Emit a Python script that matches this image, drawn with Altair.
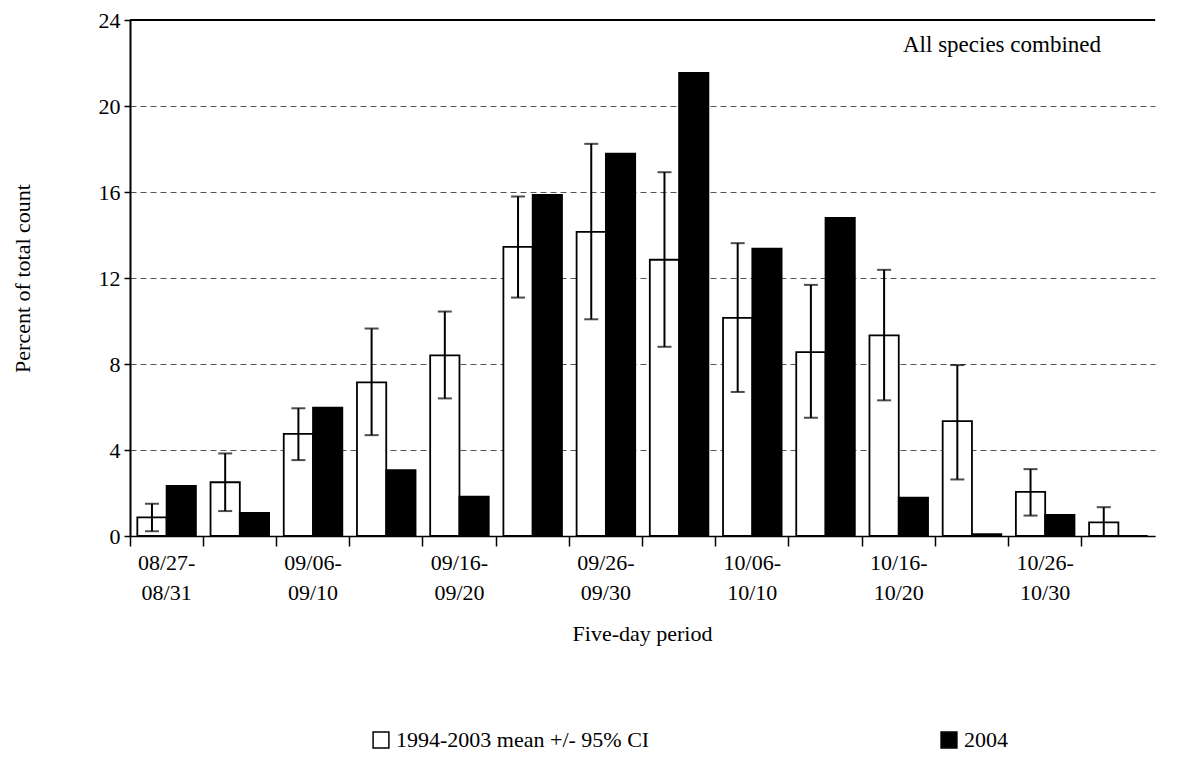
import altair as alt
import pandas as pd

# Five-day periods, late August through early November
periods = [
    "08/27-08/31", "09/01-09/05", "09/06-09/10", "09/11-09/15",
    "09/16-09/20", "09/21-09/25", "09/26-09/30", "10/01-10/05",
    "10/06-10/10", "10/11-10/15", "10/16-10/20", "10/21-10/25",
    "10/26-10/30", "10/31-11/04",
]

# 1994-2003 mean percent of total count, with 95% CI bounds
mean_pct = [0.87, 2.5, 4.75, 7.15, 8.4, 13.45, 14.15, 12.85, 10.15, 8.55, 9.33, 5.34, 2.05, 0.63]
ci_low = [0.22, 1.16, 3.53, 4.69, 6.4, 11.09, 10.08, 8.8, 6.7, 5.5, 6.31, 2.63, 0.95, 0.0]
ci_high = [1.5, 3.84, 5.94, 9.65, 10.44, 15.79, 18.24, 16.92, 13.62, 11.68, 12.38, 7.95, 3.11, 1.34]

# 2004 percent of total count
pct_2004 = [2.33, 1.08, 5.97, 3.06, 1.83, 15.86, 17.78, 21.54, 13.37, 14.79, 1.78, 0.09, 0.98, 0.0]

MEAN = "1994-2003 mean +/- 95% CI"
YEAR = "2004"
series_order = [MEAN, YEAR]

FONT = "Liberation Serif"

bars_df = pd.DataFrame(
    [{"period": p, "series": MEAN, "value": m} for p, m in zip(periods, mean_pct)]
    + [{"period": p, "series": YEAR, "value": v} for p, v in zip(periods, pct_2004)]
)
ci_df = pd.DataFrame({"period": periods, "series": MEAN, "lo": ci_low, "hi": ci_high})

# every other period gets a two-line label
shown = "[" + ",".join("'%s'" % p for p in periods[::2]) + "]"
label_expr = (
    f"indexof({shown}, datum.value) >= 0 ? "
    "[substring(datum.value, 0, 6), substring(datum.value, 6)] : ''"
)

x_enc = alt.X(
    "period:N",
    sort=periods,
    scale=alt.Scale(paddingInner=0, paddingOuter=0),
    axis=alt.Axis(
        title="Five-day period",
        labelExpr=label_expr,
        labelAngle=0,
        labelFont=FONT,
        labelFontSize=22,
        labelColor="black",
        labelLineHeight=30,
        labelPadding=6,
        bandPosition=0,
        tickColor="black",
        tickSize=10,
        tickWidth=1.5,
        domainColor="black",
        domainWidth=1.5,
        titleFont=FONT,
        titleFontSize=22,
        titleFontWeight="normal",
        titleColor="black",
        titleX=512,
        titleY=97,
        titleBaseline="middle",
        grid=False,
    ),
)
off_enc = alt.XOffset(
    "series:N",
    scale=alt.Scale(domain=series_order, paddingOuter=0.25, paddingInner=0),
)

y_scale = alt.Scale(domain=[0, 24])
y_axis = alt.Axis(
    title="Percent of total count",
    values=[0, 4, 8, 12, 16, 20, 24],
    labelFont=FONT,
    labelFontSize=22,
    labelColor="black",
    labelPadding=4,
    tickColor="black",
    tickSize=6,
    tickWidth=1.5,
    domainColor="black",
    domainWidth=2,
    grid=True,
    gridColor="#555555",
    gridDash=[6, 4],
    gridWidth=1,
    titleFont=FONT,
    titleFontSize=22,
    titleFontWeight="normal",
    titleColor="black",
    titleX=-108,
    titleY=258,
    titleBaseline="middle",
)

bars = alt.Chart(bars_df).mark_bar(stroke="black", strokeWidth=1.8).encode(
    x=x_enc,
    xOffset=off_enc,
    y=alt.Y("value:Q", scale=y_scale, axis=y_axis),
    fill=alt.Fill(
        "series:N",
        scale=alt.Scale(domain=series_order, range=["white", "black"]),
        legend=alt.Legend(
            title=None,
            orient="none",
            legendX=240,
            legendY=709,
            direction="horizontal",
            columns=2,
            columnPadding=288,
            symbolType="square",
            symbolSize=250,
            symbolStrokeColor="black",
            symbolStrokeWidth=1.5,
            labelFont=FONT,
            labelFontSize=22,
            labelColor="black",
            labelOffset=4,
            labelLimit=400,
        ),
    ),
)

whisker = alt.Chart(ci_df).mark_rule(color="black", strokeWidth=2).encode(
    x=alt.X("period:N", sort=periods),
    xOffset=off_enc,
    y=alt.Y("lo:Q", scale=y_scale),
    y2="hi:Q",
)
cap_hi = alt.Chart(ci_df).mark_tick(color="black", thickness=2, size=14, orient="horizontal").encode(
    x=alt.X("period:N", sort=periods),
    xOffset=off_enc,
    y=alt.Y("hi:Q", scale=y_scale),
)
cap_lo = alt.Chart(ci_df).mark_tick(color="black", thickness=2, size=14, orient="horizontal").encode(
    x=alt.X("period:N", sort=periods),
    xOffset=off_enc,
    y=alt.Y("lo:Q", scale=y_scale),
)

top_line = alt.Chart().mark_rule(color="black", strokeWidth=2).encode(y=alt.datum(24))

note = alt.Chart(pd.DataFrame({"t": ["All species combined"]})).mark_text(
    font=FONT, fontSize=23, align="left", baseline="middle", color="black"
).encode(x=alt.value(773), y=alt.value(25), text="t:N")

chart = (
    alt.layer(bars, whisker, cap_hi, cap_lo, top_line, note)
    .properties(
        width=1025,
        height=516,
        autosize=alt.AutoSizeParams(type="none"),
        padding={"left": 130, "top": 20, "right": 33, "bottom": 225},
        background="white",
    )
    .configure_view(stroke=None)
)

chart.save("out.html", embed_options={"renderer": "svg", "actions": False})
